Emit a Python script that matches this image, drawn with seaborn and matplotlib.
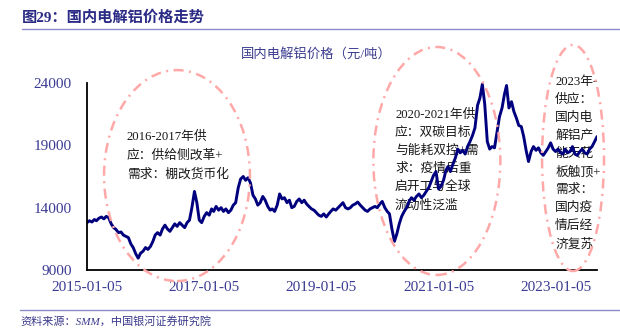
import matplotlib
matplotlib.use("Agg")
import matplotlib.pyplot as plt
from matplotlib.patches import Ellipse
from matplotlib.lines import Line2D
import pandas as pd
import seaborn as sns

# 国内电解铝现货价格（元/吨），每月5日、20日取值
price_2015 = [12800, 12950, 12850, 13050, 12950, 13150, 13250, 13100, 13300, 13200, 12700, 12400,
              12250, 12000, 12050, 11800, 11700, 11600, 11100, 10800, 10300, 9950, 10350, 10500]
price_2016 = [10800, 10650, 10900, 11300, 11800, 12000, 11800, 12300, 12600, 12300, 12100, 12400,
              12700, 12500, 12800, 12600, 12400, 12800, 13000, 14000, 15300, 14400, 13000, 12800]
price_2017 = [13300, 13600, 13400, 13900, 13700, 14100, 13800, 14000, 13700, 13900, 13600, 13800,
              14200, 14400, 15600, 16300, 16500, 16200, 16400, 16000, 15000, 14700, 14200, 14400]
price_2018 = [14900, 14600, 14100, 13800, 13900, 13700, 14200, 15100, 14700, 14800, 14400, 14600,
              14000, 14100, 14500, 14700, 14400, 14600, 14300, 14100, 13900, 13800, 13600, 13400]
price_2019 = [13300, 13500, 13250, 13500, 13700, 13900, 13800, 14000, 14200, 14400, 14000, 13900,
              14000, 14200, 14300, 14450, 14200, 14000, 13800, 13700, 13900, 14000, 14100, 14000]
price_2020 = [14300, 14500, 14000, 13700, 13500, 12300, 11300, 11900, 12700, 13300, 13700, 14000,
              14500, 14800, 14600, 14900, 15100, 14800, 15000, 15300, 15600, 16100, 16600, 16900]
price_2021 = [15500, 15700, 16200, 17000, 17300, 16900, 17500, 18000, 18700, 18400, 18600, 18300,
              18900, 19300, 19800, 20400, 22200, 22800, 23900, 22300, 19300, 18700, 18900, 18800]
price_2022 = [20100, 21300, 22000, 23100, 23800, 22000, 22500, 21700, 21200, 20600, 20500, 19700,
              18600, 17700, 18500, 18900, 18600, 18800, 18400, 18200, 18500, 18800, 19200, 18700]
price_2023 = [18500, 18700, 18400, 18300, 18700, 18400, 18500, 18900, 18300, 18200, 18500, 18700,
              18400, 18300, 18700, 18900, 19300, 19700]

y_ticks = [9000, 14000, 19000, 24000]
x_tick_labels = ["2015-01-05", "2017-01-05", "2019-01-05", "2021-01-05", "2023-01-05"]

title_text = "图29：国内电解铝价格走势"
chart_title = "国内电解铝价格（元/吨）"
source_text = "资料来源：SMM，中国银河证券研究院"
note_2016 = "2016-2017年供\n应：供给侧改革+\n需求：棚改货币化"
note_2020 = "2020-2021年供\n应：双碳目标\n与能耗双控+需\n求：疫情后重\n启开工与全球\n流动性泛滥"
note_2023 = "2023年-\n供应：\n国内电\n解铝产\n能天花\n板触顶+\n需求：\n国内疫\n情后经\n济复苏"

months = pd.date_range("2015-01-01", "2023-09-01", freq="MS")
dates = [m + pd.Timedelta(days=d) for m in months for d in (4, 19)]
prices = (price_2015 + price_2016 + price_2017 + price_2018 + price_2019
          + price_2020 + price_2021 + price_2022 + price_2023)
df = pd.DataFrame({"日期": dates, "价格": prices})

sns.set_theme(style="white")
plt.rcParams["font.family"] = ["Liberation Serif", "Noto Sans CJK SC"]
plt.rcParams["axes.unicode_minus"] = False

W, H = 620, 332
fig = plt.figure(figsize=(W / 100, H / 100), dpi=100)
ax = fig.add_axes([87 / W, 1 - 270 / H, 510 / W, 187 / H])

sns.lineplot(data=df, x="日期", y="价格", ax=ax, color="#00007F", lw=2.1, zorder=2)

ax.set_xlim(dates[0], dates[-1])
ax.set_ylim(y_ticks[0], y_ticks[-1])
ax.set_yticks(y_ticks)
ax.set_yticklabels([str(v) for v in y_ticks])
ax.set_xticks(pd.to_datetime(x_tick_labels))
ax.set_xticklabels(x_tick_labels)
ax.set_xlabel("")
ax.set_ylabel("")

for side in ("top", "right"):
    ax.spines[side].set_visible(False)
for side in ("left", "bottom"):
    ax.spines[side].set_color("black")
    ax.spines[side].set_linewidth(1.3)

tick_color = "#3B3B93"
ax.tick_params(axis="both", direction="in", length=4, width=1, color="black",
               labelcolor=tick_color, labelsize=11)
ax.tick_params(axis="y", pad=11)
ax.tick_params(axis="x", pad=8)

# 图表标题
ax.text(0.45, 1.155, chart_title, transform=ax.transAxes, ha="center", va="center",
        fontsize=9.6, color="#3D3D90")

# 注释文字（位于折线下层）
note_kw = dict(transform=ax.transAxes, ha="left", va="top", fontsize=9.2,
               color="#1A1A1A", linespacing=1.66, zorder=1.5, clip_on=False)
ax.text(0.078, 0.745, note_2016, **note_kw)
ax.text(0.604, 0.862, note_2020, **note_kw)
ax.text(0.918, 1.04, note_2023, **note_kw)

# 虚线椭圆圈出三个阶段
ell_kw = dict(transform=ax.transAxes, fill=False, edgecolor="#FFA8A8", lw=1.8,
              linestyle=(0, (4, 2.2, 0.8, 2.2)), zorder=3, clip_on=False)
ax.add_patch(Ellipse((0.1765, 0.505), 0.286, 1.128, **ell_kw))
ax.add_patch(Ellipse((0.686, 0.583), 0.249, 1.219, **ell_kw))
ax.add_patch(Ellipse((0.953, 0.599), 0.1216, 1.209, **ell_kw))

# 页眉标题与分隔线
fig.text(22 / W, 1 - 18 / H, title_text, ha="left", va="center", fontsize=11,
         fontweight="bold", color="#2A2A85")
fig.add_artist(Line2D([22 / W, 1.0], [1 - 29 / H] * 2, transform=fig.transFigure,
                      color="#8C8CC8", lw=1))

# 资料来源与分隔线
fig.add_artist(Line2D([20 / W, 1.0], [1 - 310 / H] * 2, transform=fig.transFigure,
                      color="#8C8CC8", lw=1))
fig.text(20 / W, 1 - 321 / H, source_text, ha="left", va="center", fontsize=8,
         style="italic", color="#3A3A8C")

fig.savefig("out.png", dpi=100)
